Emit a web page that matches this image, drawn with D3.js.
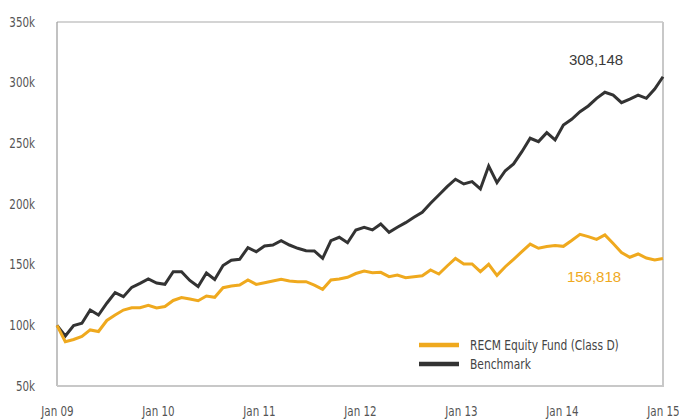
<!DOCTYPE html>
<html>
<head>
<meta charset="utf-8">
<script src="https://cdn.jsdelivr.net/npm/d3@7"></script>
<style>
  html, body { margin: 0; padding: 0; background: #fff; }
  svg { display: block; }
  .cond { font-family: "Liberation Sans Narrow", "DejaVu Sans Condensed", "DejaVu Sans", sans-serif; font-stretch: condensed; }
</style>
</head>
<body>
<svg id="chart" width="679" height="419"></svg>
<script>
// ---- data (values in rand, monthly, Jan 09 .. Jan 15) ----
const xTickLabels = ["Jan 09", "Jan 10", "Jan 11", "Jan 12", "Jan 13", "Jan 14", "Jan 15"];
const yTicks = [50000, 100000, 150000, 200000, 250000, 300000, 350000];
const seriesNames = ["RECM Equity Fund (Class D)", "Benchmark"];
const seriesColors = ["#EFA91E", "#333333"];
const fundValues = [
  100.0, 86.5, 88.3, 90.8, 96.2, 94.9, 104.0, 108.5, 112.6, 114.5, 114.5, 116.5,
  114.3, 115.5, 120.5, 122.9, 121.7, 120.3, 124.2, 123.1, 131.0, 132.4, 133.2, 137.4,
  133.7, 135.1, 136.5, 137.9, 136.5, 136.0, 136.0, 133.2, 129.7, 137.4, 138.2, 139.6,
  142.7, 144.8, 143.4, 143.7, 140.1, 141.5, 139.3, 140.1, 140.9, 145.6, 142.3, 148.9,
  155.1, 150.6, 150.6, 144.2, 150.3, 141.2, 148.3, 154.4, 160.7, 166.9, 163.5, 165.0,
  165.8, 165.1, 169.9, 175.0, 173.1, 170.9, 174.5, 167.4, 160.0, 156.1, 158.8, 155.5,
  153.8, 155.1
].map(v => v * 1000);
const benchmarkValues = [
  100.0, 91.2, 99.9, 101.7, 112.6, 108.5, 118.2, 126.9, 123.6, 131.3, 134.6, 138.2,
  134.9, 133.8, 144.2, 144.2, 137.0, 132.0, 143.1, 137.8, 149.3, 153.6, 154.4, 164.0,
  160.7, 165.4, 166.2, 169.8, 166.2, 163.5, 161.5, 161.3, 155.2, 169.8, 172.6, 168.1,
  178.6, 180.8, 178.6, 183.5, 176.7, 180.8, 184.6, 189.0, 193.2, 200.6, 207.4, 214.3,
  220.4, 216.5, 218.4, 212.4, 231.3, 217.6, 227.4, 233.0, 243.1, 254.2, 251.4, 258.8,
  252.8, 265.1, 269.8, 276.1, 280.8, 287.1, 292.1, 289.8, 283.5, 286.5, 289.8, 287.1,
  294.8, 304.9
].map(v => v * 1000);
const endLabels = ["308,148", "156,818"];

// ---- layout ----
const svg = d3.select("#chart");
const pL = 57, pR = 663, pT = 22, pB = 386;
const sx = 0.82; // horizontal condensing of the narrow label font

const x = d3.scaleLinear().domain([0, fundValues.length - 1]).range([pL, pR]);
const xAxisScale = d3.scalePoint().domain(xTickLabels).range([pL, pR]);
const y = d3.scaleLinear().domain([50000, 350000]).range([pB, pT]);

// frame
svg.append("line").attr("x1", pL).attr("x2", pR).attr("y1", pT).attr("y2", pT)
  .attr("stroke", "#aaa").attr("stroke-width", 1.2);
svg.append("line").attr("x1", pL).attr("x2", pL).attr("y1", pT).attr("y2", pB)
  .attr("stroke", "#999").attr("stroke-width", 1.2);
svg.append("line").attr("x1", pR).attr("x2", pR).attr("y1", pT).attr("y2", pB + 1)
  .attr("stroke", "#c8c8c8").attr("stroke-width", 2);
svg.append("line").attr("x1", pL).attr("x2", pR).attr("y1", pB).attr("y2", pB)
  .attr("stroke", "#c8c8c8").attr("stroke-width", 2);

// y axis
const yAxis = svg.append("g").attr("transform", `translate(${pL},0)`)
  .call(d3.axisLeft(y).tickValues(yTicks).tickFormat(d => (d / 1000) + "k").tickSize(0).tickPadding(22));
yAxis.select(".domain").remove();
yAxis.selectAll("text").attr("class", "cond").style("font-size", "14px").attr("fill", "#555")
  .attr("dy", "0.3em").attr("x", -22 / sx).attr("transform", `scale(${sx},1)`);

// x axis
const xAxis = svg.append("g").attr("transform", `translate(0,${pB})`)
  .call(d3.axisBottom(xAxisScale).tickSize(0).tickPadding(20));
xAxis.select(".domain").remove();
xAxis.selectAll("text").attr("class", "cond").style("font-size", "14px").attr("fill", "#555")
  .attr("transform", `scale(${sx},1)`);

// lines
const line = d3.line().x((d, i) => x(i)).y(d => y(d)).curve(d3.curveLinear);
[benchmarkValues, fundValues].forEach((vals, k) => {
  svg.append("path").datum(vals)
    .attr("d", line)
    .attr("fill", "none")
    .attr("stroke", k === 0 ? seriesColors[1] : seriesColors[0])
    .attr("stroke-width", 3)
    .attr("stroke-linejoin", "miter");
});

// end labels
svg.append("text").attr("x", 596).attr("y", 65).attr("text-anchor", "middle")
  .attr("font-family", "Liberation Sans, Arial, sans-serif").attr("font-size", 15)
  .attr("fill", "#3a3a3a").text(endLabels[0]);
svg.append("text").attr("x", 594).attr("y", 282).attr("text-anchor", "middle")
  .attr("font-family", "Liberation Sans, Arial, sans-serif").attr("font-size", 15)
  .attr("fill", seriesColors[0]).text(endLabels[1]);

// legend
const legend = svg.append("g");
seriesNames.forEach((name, i) => {
  const ly = 345 + i * 19;
  legend.append("line").attr("x1", 419).attr("x2", 459).attr("y1", ly).attr("y2", ly)
    .attr("stroke", seriesColors[i]).attr("stroke-width", 4.5);
  legend.append("text").attr("class", "cond")
    .attr("transform", `translate(470,${ly}) scale(${sx},1)`).attr("dy", "0.35em")
    .style("font-size", "14.5px").attr("fill", "#444").text(name);
});
</script>
</body>
</html>
